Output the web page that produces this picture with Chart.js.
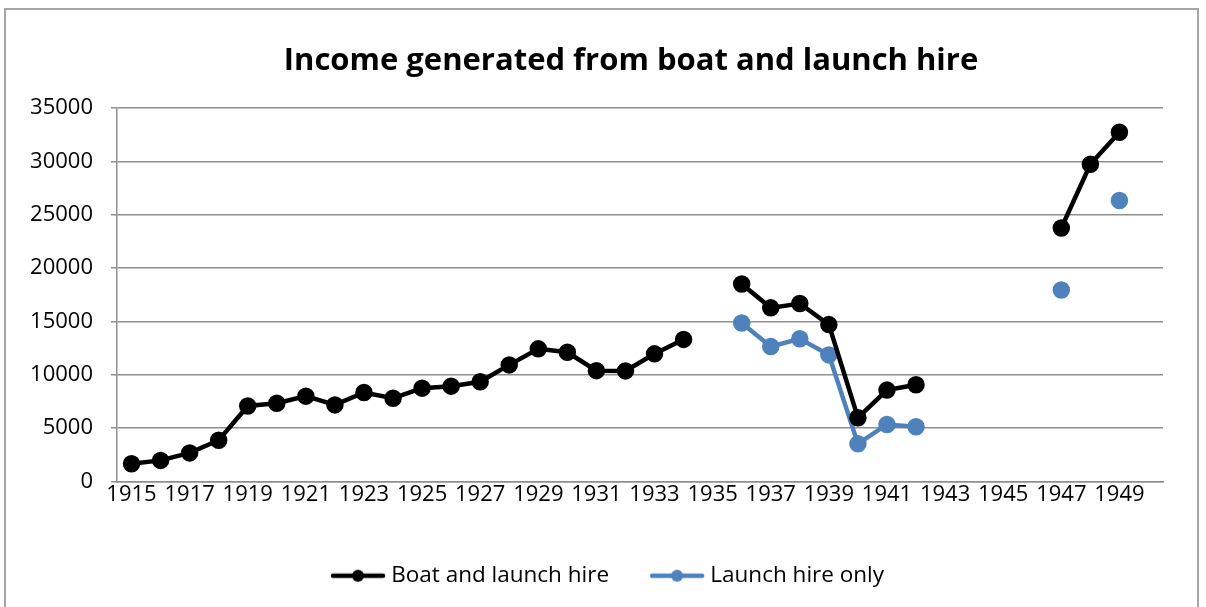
<!DOCTYPE html>
<html>
<head>
<meta charset="utf-8">
<script src="https://cdn.jsdelivr.net/npm/chart.js@4.4.1/dist/chart.umd.min.js"></script>
<style>
  html, body { margin: 0; padding: 0; background: #fff; overflow: hidden; }
  #frame { position: absolute; left: 4px; top: 8px; width: 1195px; height: 620px; border: 2px solid #a6a6a6; box-sizing: border-box; }
  #wrap { position: absolute; left: 0; top: 0; width: 1206px; height: 607px; }
</style>
</head>
<body>
<div id="frame"></div>
<div id="wrap"><canvas id="one"></canvas></div>
<script>
// years on the category axis (1950 is an empty slot at the end)
const years = ['1915','1916','1917','1918','1919','1920','1921','1922','1923','1924',
               '1925','1926','1927','1928','1929','1930','1931','1932','1933','1934',
               '1935','1936','1937','1938','1939','1940','1941','1942','1943','1944',
               '1945','1946','1947','1948','1949','1950'];

// income from boats and launches together
const boatAndLaunch = [1670, 1980, 2680, 3870, 7080, 7340, 8000, 7180, 8340, 7810,
                       8750, 8940, 9350, 10930, 12440, 12120, 10390, 10370, 11970, 13320,
                       null, 18520, 16280, 16690, 14710, 5980, 8570, 9070, null, null,
                       null, null, 23770, 29750, 32740, null];

// income from launches only
const launchOnly = [null, null, null, null, null, null, null, null, null, null,
                    null, null, null, null, null, null, null, null, null, null,
                    null, 14860, 12660, 13380, 11870, 3530, 5350, 5130, null, null,
                    null, null, 17960, null, 26350, null];

const yTicks = [0, 5000, 10000, 15000, 20000, 25000, 30000, 35000];

const fontFamily = '"Open Sans", sans-serif';
const gridGrey = '#8f8f8f';

// little line-with-dot picture used as the legend marker
function legendMarker(color) {
  const c = document.createElement('canvas');
  c.width = 56;
  c.height = 14;
  const g = c.getContext('2d');
  g.strokeStyle = color;
  g.lineWidth = 4.5;
  g.lineCap = 'round';
  g.beginPath();
  g.moveTo(3, 7);
  g.lineTo(53, 7);
  g.stroke();
  g.fillStyle = color;
  g.beginPath();
  g.arc(28, 7, 6, 0, Math.PI * 2);
  g.fill();
  return c;
}

// centre the title and legend a bit to the right, under the plot rather than the whole canvas
const shiftBlocks = {
  id: 'shiftBlocks',
  afterLayout: function(chart) {
    if (chart.titleBlock) chart.titleBlock.left = 99;
    if (chart.legend) chart.legend.left = 57;
  }
};

const ctx = document.getElementById('one');

new Chart(ctx, {
  type: 'line',
  data: {
    labels: years,
    datasets: [{
      label: 'Boat and launch hire',
      data: boatAndLaunch,
      borderColor: '#000000',
      backgroundColor: '#000000',
      borderWidth: 4.5,
      pointRadius: 6.5,
      pointHoverRadius: 6.5,
      tension: 0,
      spanGaps: false
    }, {
      label: 'Launch hire only',
      data: launchOnly,
      borderColor: '#4f81bd',
      backgroundColor: '#4f81bd',
      borderWidth: 4.5,
      pointRadius: 6.5,
      pointHoverRadius: 6.5,
      tension: 0,
      spanGaps: false
    }]
  },
  plugins: [shiftBlocks],
  options: {
    responsive: true,
    maintainAspectRatio: false,
    animation: false,
    layout: { padding: { left: 0, right: 43, top: 0, bottom: 10 } },
    plugins: {
      title: {
        display: true,
        text: 'Income generated from boat and launch hire',
        color: '#000',
        font: { family: fontFamily, size: 31, weight: 'bold' },
        padding: { top: 43, bottom: 28 }
      },
      legend: {
        position: 'bottom',
        labels: {
          color: '#000',
          font: { family: fontFamily, size: 22.5 },
          usePointStyle: true,
          pointStyleWidth: 44,
          padding: 46,
          generateLabels: function(chart) {
            const items = Chart.defaults.plugins.legend.labels.generateLabels(chart);
            items.forEach(function(item) {
              item.pointStyle = legendMarker(chart.data.datasets[item.datasetIndex].borderColor);
            });
            return items;
          }
        }
      },
      tooltip: { enabled: false }
    },
    scales: {
      x: {
        offset: true,
        grid: { display: false, drawTicks: false },
        border: { color: gridGrey, width: 1.5 },
        ticks: {
          autoSkip: false,
          maxRotation: 0,
          minRotation: 0,
          padding: 0,
          color: '#000',
          font: { family: fontFamily, size: 22 },
          callback: function(value, index) {
            return index % 2 === 0 ? years[index] : '';
          }
        },
        afterFit: function(scale) { scale.height = 37; }
      },
      y: {
        min: 0,
        max: 35000,
        afterBuildTicks: function(scale) {
          scale.ticks = yTicks.map(function(v) { return { value: v }; });
        },
        grid: { color: gridGrey, lineWidth: 1.5, tickLength: 6, tickColor: gridGrey },
        border: { color: gridGrey, width: 1.5 },
        ticks: {
          padding: 18,
          color: '#000',
          font: { family: fontFamily, size: 22 },
          callback: function(value) { return String(value); }
        },
        afterFit: function(scale) { scale.width = 117; }
      }
    }
  }
});
</script>
</body>
</html>
